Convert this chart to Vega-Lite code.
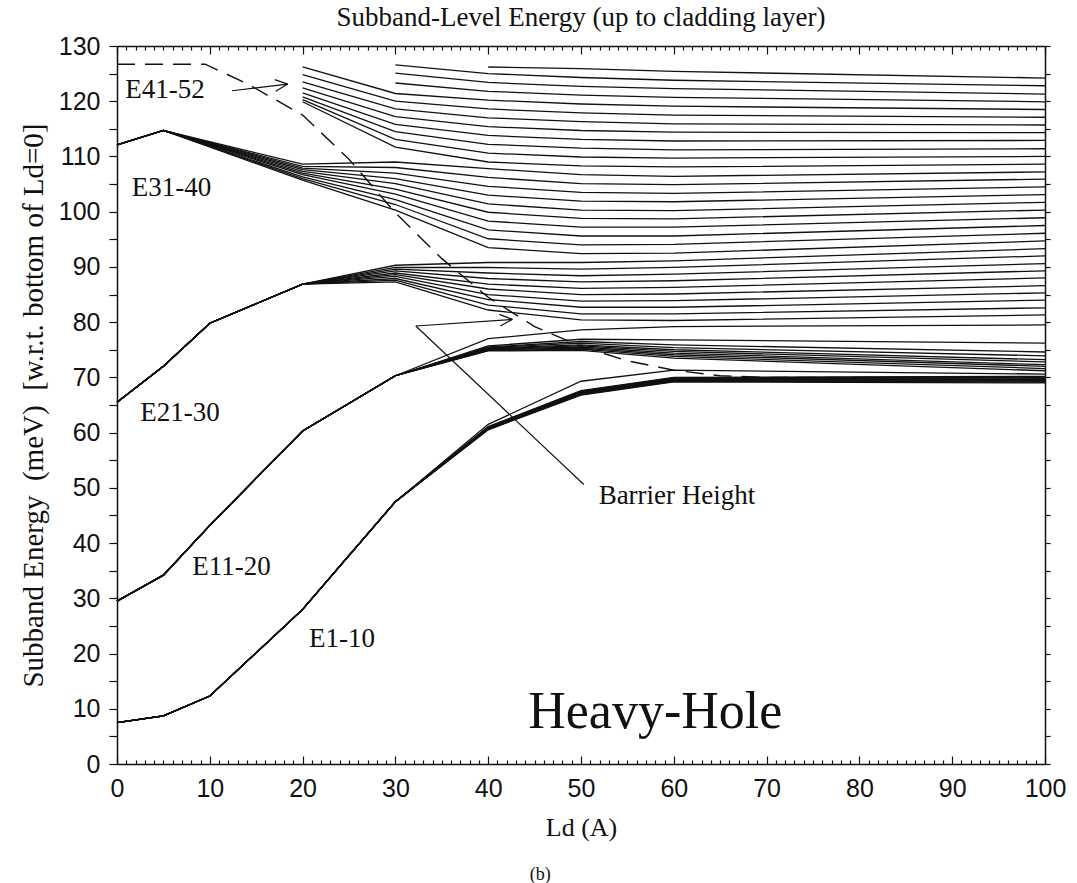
{
  "$schema": "https://vega.github.io/schema/vega-lite/v6.json",
  "width": 928,
  "height": 718,
  "autosize": {"type": "none"},
  "padding": {"left": 117, "top": 46, "right": 32, "bottom": 119},
  "background": "white",
  "config": {
    "view": {"stroke": null},
    "axis": {"domainColor": "#111", "tickColor": "#111", "domainWidth": 1.5, "tickWidth": 1.2, "grid": false, "labelFont": "Liberation Sans", "labelFontSize": 25, "labelColor": "#111", "titleFont": "Liberation Serif", "titleFontWeight": "normal", "titleColor": "#111", "labelOverlap": false, "labelFlush": false}
  },
  "title": {"text": "Subband-Level Energy (up to cladding layer)", "font": "Liberation Serif", "fontSize": 27, "fontWeight": "normal", "color": "#111", "anchor": "middle", "frame": "group", "offset": 2},
  "datasets": {
    "curves": [
      {"s":"a0","x":0,"y":7.5},{"s":"a0","x":5,"y":8.7},{"s":"a0","x":10,"y":12.3},{"s":"a0","x":20,"y":28},{"s":"a0","x":30,"y":47.5},{"s":"a0","x":40,"y":60.5},{"s":"a0","x":50,"y":66.8},{"s":"a0","x":60,"y":69.2},{"s":"a0","x":100,"y":69},
      {"s":"a1","x":0,"y":7.5},{"s":"a1","x":5,"y":8.7},{"s":"a1","x":10,"y":12.3},{"s":"a1","x":20,"y":28},{"s":"a1","x":30,"y":47.5},{"s":"a1","x":40,"y":60.6},{"s":"a1","x":50,"y":66.9},{"s":"a1","x":60,"y":69.3},{"s":"a1","x":100,"y":69.15},
      {"s":"a2","x":0,"y":7.5},{"s":"a2","x":5,"y":8.7},{"s":"a2","x":10,"y":12.3},{"s":"a2","x":20,"y":28},{"s":"a2","x":30,"y":47.5},{"s":"a2","x":40,"y":60.6},{"s":"a2","x":50,"y":67},{"s":"a2","x":60,"y":69.4},{"s":"a2","x":100,"y":69.3},
      {"s":"a3","x":0,"y":7.5},{"s":"a3","x":5,"y":8.7},{"s":"a3","x":10,"y":12.3},{"s":"a3","x":20,"y":28},{"s":"a3","x":30,"y":47.5},{"s":"a3","x":40,"y":60.7},{"s":"a3","x":50,"y":67.1},{"s":"a3","x":60,"y":69.5},{"s":"a3","x":100,"y":69.45},
      {"s":"a4","x":0,"y":7.5},{"s":"a4","x":5,"y":8.7},{"s":"a4","x":10,"y":12.3},{"s":"a4","x":20,"y":28},{"s":"a4","x":30,"y":47.5},{"s":"a4","x":40,"y":60.8},{"s":"a4","x":50,"y":67.2},{"s":"a4","x":60,"y":69.6},{"s":"a4","x":100,"y":69.6},
      {"s":"a5","x":0,"y":7.5},{"s":"a5","x":5,"y":8.7},{"s":"a5","x":10,"y":12.3},{"s":"a5","x":20,"y":28},{"s":"a5","x":30,"y":47.5},{"s":"a5","x":40,"y":60.8},{"s":"a5","x":50,"y":67.3},{"s":"a5","x":60,"y":69.7},{"s":"a5","x":100,"y":69.75},
      {"s":"a6","x":0,"y":7.5},{"s":"a6","x":5,"y":8.7},{"s":"a6","x":10,"y":12.3},{"s":"a6","x":20,"y":28},{"s":"a6","x":30,"y":47.5},{"s":"a6","x":40,"y":60.9},{"s":"a6","x":50,"y":67.4},{"s":"a6","x":60,"y":69.8},{"s":"a6","x":100,"y":69.9},
      {"s":"a7","x":0,"y":7.5},{"s":"a7","x":5,"y":8.7},{"s":"a7","x":10,"y":12.3},{"s":"a7","x":20,"y":28},{"s":"a7","x":30,"y":47.5},{"s":"a7","x":40,"y":61},{"s":"a7","x":50,"y":67.5},{"s":"a7","x":60,"y":69.9},{"s":"a7","x":100,"y":70.05},
      {"s":"a8","x":0,"y":7.5},{"s":"a8","x":5,"y":8.7},{"s":"a8","x":10,"y":12.3},{"s":"a8","x":20,"y":28},{"s":"a8","x":30,"y":47.5},{"s":"a8","x":40,"y":61.1},{"s":"a8","x":50,"y":67.6},{"s":"a8","x":60,"y":70},{"s":"a8","x":100,"y":70.2},
      {"s":"a9","x":0,"y":7.5},{"s":"a9","x":5,"y":8.7},{"s":"a9","x":10,"y":12.3},{"s":"a9","x":20,"y":28},{"s":"a9","x":30,"y":47.5},{"s":"a9","x":40,"y":61.5},{"s":"a9","x":50,"y":69.3},{"s":"a9","x":60,"y":71.3},{"s":"a9","x":100,"y":70.6},

      {"s":"b0","x":0,"y":29.5},{"s":"b0","x":5,"y":34.2},{"s":"b0","x":10,"y":43.2},{"s":"b0","x":20,"y":60.3},{"s":"b0","x":30,"y":70.3},{"s":"b0","x":40,"y":74.8},{"s":"b0","x":50,"y":74.9},{"s":"b0","x":60,"y":73.5},{"s":"b0","x":100,"y":71.2},
      {"s":"b1","x":0,"y":29.5},{"s":"b1","x":5,"y":34.2},{"s":"b1","x":10,"y":43.2},{"s":"b1","x":20,"y":60.3},{"s":"b1","x":30,"y":70.3},{"s":"b1","x":40,"y":74.9},{"s":"b1","x":50,"y":75.1},{"s":"b1","x":60,"y":73.8},{"s":"b1","x":100,"y":71.6},
      {"s":"b2","x":0,"y":29.5},{"s":"b2","x":5,"y":34.2},{"s":"b2","x":10,"y":43.2},{"s":"b2","x":20,"y":60.3},{"s":"b2","x":30,"y":70.3},{"s":"b2","x":40,"y":75},{"s":"b2","x":50,"y":75.3},{"s":"b2","x":60,"y":74.1},{"s":"b2","x":100,"y":72},
      {"s":"b3","x":0,"y":29.5},{"s":"b3","x":5,"y":34.2},{"s":"b3","x":10,"y":43.2},{"s":"b3","x":20,"y":60.3},{"s":"b3","x":30,"y":70.3},{"s":"b3","x":40,"y":75.1},{"s":"b3","x":50,"y":75.5},{"s":"b3","x":60,"y":74.4},{"s":"b3","x":100,"y":72.3},
      {"s":"b4","x":0,"y":29.5},{"s":"b4","x":5,"y":34.2},{"s":"b4","x":10,"y":43.2},{"s":"b4","x":20,"y":60.3},{"s":"b4","x":30,"y":70.3},{"s":"b4","x":40,"y":75.2},{"s":"b4","x":50,"y":75.7},{"s":"b4","x":60,"y":74.7},{"s":"b4","x":100,"y":72.8},
      {"s":"b5","x":0,"y":29.5},{"s":"b5","x":5,"y":34.2},{"s":"b5","x":10,"y":43.2},{"s":"b5","x":20,"y":60.3},{"s":"b5","x":30,"y":70.3},{"s":"b5","x":40,"y":75.3},{"s":"b5","x":50,"y":75.9},{"s":"b5","x":60,"y":75},{"s":"b5","x":100,"y":73.2},
      {"s":"b6","x":0,"y":29.5},{"s":"b6","x":5,"y":34.2},{"s":"b6","x":10,"y":43.2},{"s":"b6","x":20,"y":60.3},{"s":"b6","x":30,"y":70.3},{"s":"b6","x":40,"y":75.4},{"s":"b6","x":50,"y":76.2},{"s":"b6","x":60,"y":75.4},{"s":"b6","x":100,"y":73.9},
      {"s":"b7","x":0,"y":29.5},{"s":"b7","x":5,"y":34.2},{"s":"b7","x":10,"y":43.2},{"s":"b7","x":20,"y":60.3},{"s":"b7","x":30,"y":70.3},{"s":"b7","x":40,"y":75.5},{"s":"b7","x":50,"y":76.5},{"s":"b7","x":60,"y":75.9},{"s":"b7","x":100,"y":74.6},
      {"s":"b8","x":0,"y":29.5},{"s":"b8","x":5,"y":34.2},{"s":"b8","x":10,"y":43.2},{"s":"b8","x":20,"y":60.3},{"s":"b8","x":30,"y":70.3},{"s":"b8","x":40,"y":75.7},{"s":"b8","x":50,"y":76.9},{"s":"b8","x":60,"y":76.8},{"s":"b8","x":100,"y":76.2},
      {"s":"b9","x":0,"y":29.5},{"s":"b9","x":5,"y":34.2},{"s":"b9","x":10,"y":43.2},{"s":"b9","x":20,"y":60.3},{"s":"b9","x":30,"y":70.3},{"s":"b9","x":40,"y":77},{"s":"b9","x":50,"y":78.6},{"s":"b9","x":60,"y":79.2},{"s":"b9","x":100,"y":79.5},

      {"s":"c0","x":0,"y":65.5},{"s":"c0","x":5,"y":72},{"s":"c0","x":10,"y":79.8},{"s":"c0","x":20,"y":86.9},{"s":"c0","x":30,"y":87.3},{"s":"c0","x":40,"y":82.2},{"s":"c0","x":50,"y":80.4},{"s":"c0","x":60,"y":80.3},{"s":"c0","x":100,"y":81.3},
      {"s":"c1","x":0,"y":65.5},{"s":"c1","x":5,"y":72},{"s":"c1","x":10,"y":79.8},{"s":"c1","x":20,"y":86.9},{"s":"c1","x":30,"y":87.6},{"s":"c1","x":40,"y":83.1},{"s":"c1","x":50,"y":81.5},{"s":"c1","x":60,"y":81.5},{"s":"c1","x":100,"y":82.6},
      {"s":"c2","x":0,"y":65.5},{"s":"c2","x":5,"y":72},{"s":"c2","x":10,"y":79.8},{"s":"c2","x":20,"y":86.9},{"s":"c2","x":30,"y":87.9},{"s":"c2","x":40,"y":84.1},{"s":"c2","x":50,"y":82.7},{"s":"c2","x":60,"y":82.7},{"s":"c2","x":100,"y":84},
      {"s":"c3","x":0,"y":65.5},{"s":"c3","x":5,"y":72},{"s":"c3","x":10,"y":79.8},{"s":"c3","x":20,"y":86.9},{"s":"c3","x":30,"y":88.3},{"s":"c3","x":40,"y":85},{"s":"c3","x":50,"y":83.8},{"s":"c3","x":60,"y":83.9},{"s":"c3","x":100,"y":85.3},
      {"s":"c4","x":0,"y":65.5},{"s":"c4","x":5,"y":72},{"s":"c4","x":10,"y":79.8},{"s":"c4","x":20,"y":86.9},{"s":"c4","x":30,"y":88.6},{"s":"c4","x":40,"y":86},{"s":"c4","x":50,"y":85},{"s":"c4","x":60,"y":85.1},{"s":"c4","x":100,"y":86.6},
      {"s":"c5","x":0,"y":65.5},{"s":"c5","x":5,"y":72},{"s":"c5","x":10,"y":79.8},{"s":"c5","x":20,"y":86.9},{"s":"c5","x":30,"y":88.9},{"s":"c5","x":40,"y":86.9},{"s":"c5","x":50,"y":86.1},{"s":"c5","x":60,"y":86.3},{"s":"c5","x":100,"y":88},
      {"s":"c6","x":0,"y":65.5},{"s":"c6","x":5,"y":72},{"s":"c6","x":10,"y":79.8},{"s":"c6","x":20,"y":86.9},{"s":"c6","x":30,"y":89.3},{"s":"c6","x":40,"y":87.9},{"s":"c6","x":50,"y":87.3},{"s":"c6","x":60,"y":87.5},{"s":"c6","x":100,"y":89.3},
      {"s":"c7","x":0,"y":65.5},{"s":"c7","x":5,"y":72},{"s":"c7","x":10,"y":79.8},{"s":"c7","x":20,"y":86.9},{"s":"c7","x":30,"y":89.6},{"s":"c7","x":40,"y":88.9},{"s":"c7","x":50,"y":88.4},{"s":"c7","x":60,"y":88.7},{"s":"c7","x":100,"y":90.6},
      {"s":"c8","x":0,"y":65.5},{"s":"c8","x":5,"y":72},{"s":"c8","x":10,"y":79.8},{"s":"c8","x":20,"y":86.9},{"s":"c8","x":30,"y":89.9},{"s":"c8","x":40,"y":89.9},{"s":"c8","x":50,"y":89.6},{"s":"c8","x":60,"y":89.9},{"s":"c8","x":100,"y":92},
      {"s":"c9","x":0,"y":65.5},{"s":"c9","x":5,"y":72},{"s":"c9","x":10,"y":79.8},{"s":"c9","x":20,"y":86.9},{"s":"c9","x":30,"y":90.3},{"s":"c9","x":40,"y":90.8},{"s":"c9","x":50,"y":90.8},{"s":"c9","x":60,"y":91.1},{"s":"c9","x":100,"y":93.3},

      {"s":"d0","x":0,"y":112.1},{"s":"d0","x":5,"y":114.7},{"s":"d0","x":20,"y":105.7},{"s":"d0","x":30,"y":100.3},{"s":"d0","x":40,"y":93.5},{"s":"d0","x":50,"y":92.4},{"s":"d0","x":60,"y":92.5},{"s":"d0","x":100,"y":94.7},
      {"s":"d1","x":0,"y":112.1},{"s":"d1","x":5,"y":114.7},{"s":"d1","x":20,"y":106},{"s":"d1","x":30,"y":101.3},{"s":"d1","x":40,"y":95.1},{"s":"d1","x":50,"y":94},{"s":"d1","x":60,"y":94.1},{"s":"d1","x":100,"y":96.1},
      {"s":"d2","x":0,"y":112.1},{"s":"d2","x":5,"y":114.7},{"s":"d2","x":20,"y":106.3},{"s":"d2","x":30,"y":102.2},{"s":"d2","x":40,"y":96.7},{"s":"d2","x":50,"y":95.6},{"s":"d2","x":60,"y":95.6},{"s":"d2","x":100,"y":97.5},
      {"s":"d3","x":0,"y":112.1},{"s":"d3","x":5,"y":114.7},{"s":"d3","x":20,"y":106.7},{"s":"d3","x":30,"y":103.2},{"s":"d3","x":40,"y":98.3},{"s":"d3","x":50,"y":97.2},{"s":"d3","x":60,"y":97.2},{"s":"d3","x":100,"y":98.9},
      {"s":"d4","x":0,"y":112.1},{"s":"d4","x":5,"y":114.7},{"s":"d4","x":20,"y":107},{"s":"d4","x":30,"y":104.1},{"s":"d4","x":40,"y":99.9},{"s":"d4","x":50,"y":98.8},{"s":"d4","x":60,"y":98.7},{"s":"d4","x":100,"y":100.3},
      {"s":"d5","x":0,"y":112.1},{"s":"d5","x":5,"y":114.7},{"s":"d5","x":20,"y":107.3},{"s":"d5","x":30,"y":105.1},{"s":"d5","x":40,"y":101.4},{"s":"d5","x":50,"y":100.3},{"s":"d5","x":60,"y":100.2},{"s":"d5","x":100,"y":101.7},
      {"s":"d6","x":0,"y":112.1},{"s":"d6","x":5,"y":114.7},{"s":"d6","x":20,"y":107.6},{"s":"d6","x":30,"y":106},{"s":"d6","x":40,"y":103},{"s":"d6","x":50,"y":101.9},{"s":"d6","x":60,"y":101.8},{"s":"d6","x":100,"y":103.1},
      {"s":"d7","x":0,"y":112.1},{"s":"d7","x":5,"y":114.7},{"s":"d7","x":20,"y":107.9},{"s":"d7","x":30,"y":107},{"s":"d7","x":40,"y":104.6},{"s":"d7","x":50,"y":103.5},{"s":"d7","x":60,"y":103.3},{"s":"d7","x":100,"y":104.5},
      {"s":"d8","x":0,"y":112.1},{"s":"d8","x":5,"y":114.7},{"s":"d8","x":20,"y":108.2},{"s":"d8","x":30,"y":108},{"s":"d8","x":40,"y":106.2},{"s":"d8","x":50,"y":105.1},{"s":"d8","x":60,"y":104.9},{"s":"d8","x":100,"y":105.9},
      {"s":"d9","x":0,"y":112.1},{"s":"d9","x":5,"y":114.7},{"s":"d9","x":20,"y":108.6},{"s":"d9","x":30,"y":109},{"s":"d9","x":40,"y":107.8},{"s":"d9","x":50,"y":106.7},{"s":"d9","x":60,"y":106.4},{"s":"d9","x":100,"y":107.2},

      {"s":"e0","x":20,"y":119.9},{"s":"e0","x":30,"y":111.7},{"s":"e0","x":40,"y":109},{"s":"e0","x":50,"y":108.3},{"s":"e0","x":60,"y":108.1},{"s":"e0","x":100,"y":108.6},
      {"s":"e1","x":20,"y":120.3},{"s":"e1","x":30,"y":113.1},{"s":"e1","x":40,"y":110.6},{"s":"e1","x":50,"y":109.9},{"s":"e1","x":60,"y":109.7},{"s":"e1","x":100,"y":110},
      {"s":"e2","x":20,"y":120.8},{"s":"e2","x":30,"y":114.5},{"s":"e2","x":40,"y":112.2},{"s":"e2","x":50,"y":111.5},{"s":"e2","x":60,"y":111.2},{"s":"e2","x":100,"y":111.4},
      {"s":"e3","x":20,"y":121.5},{"s":"e3","x":30,"y":115.8},{"s":"e3","x":40,"y":113.8},{"s":"e3","x":50,"y":113.1},{"s":"e3","x":60,"y":112.8},{"s":"e3","x":100,"y":112.9},
      {"s":"e4","x":20,"y":122.4},{"s":"e4","x":30,"y":117.2},{"s":"e4","x":40,"y":115.4},{"s":"e4","x":50,"y":114.7},{"s":"e4","x":60,"y":114.4},{"s":"e4","x":100,"y":114.3},
      {"s":"e5","x":20,"y":123.5},{"s":"e5","x":30,"y":118.6},{"s":"e5","x":40,"y":117},{"s":"e5","x":50,"y":116.3},{"s":"e5","x":60,"y":115.9},{"s":"e5","x":100,"y":115.7},
      {"s":"e6","x":20,"y":124.8},{"s":"e6","x":30,"y":120},{"s":"e6","x":40,"y":118.6},{"s":"e6","x":50,"y":117.9},{"s":"e6","x":60,"y":117.5},{"s":"e6","x":100,"y":117.1},
      {"s":"e7","x":20,"y":126.2},{"s":"e7","x":30,"y":121.4},{"s":"e7","x":40,"y":120.2},{"s":"e7","x":50,"y":119.5},{"s":"e7","x":60,"y":119.1},{"s":"e7","x":100,"y":118.5},
      {"s":"f0","x":30,"y":123.3},{"s":"f0","x":40,"y":121.8},{"s":"f0","x":50,"y":121.1},{"s":"f0","x":60,"y":120.7},{"s":"f0","x":100,"y":119.9},
      {"s":"f1","x":30,"y":125.1},{"s":"f1","x":40,"y":123.4},{"s":"f1","x":50,"y":122.7},{"s":"f1","x":60,"y":122.3},{"s":"f1","x":100,"y":121.3},
      {"s":"f2","x":30,"y":126.6},{"s":"f2","x":40,"y":125},{"s":"f2","x":50,"y":124.3},{"s":"f2","x":60,"y":123.8},{"s":"f2","x":100,"y":122.8},
      {"s":"g0","x":40,"y":126.2},{"s":"g0","x":50,"y":125.9},{"s":"g0","x":60,"y":125.4},{"s":"g0","x":100,"y":124.2}
    ],
    "barrier": [
      {"x":0,"y":126.7},{"x":9.5,"y":126.7},{"x":14,"y":123.2},{"x":20,"y":117.5},{"x":25,"y":109.5},{"x":30,"y":99.8},{"x":35,"y":91.5},{"x":40,"y":84.5},{"x":45,"y":79.2},{"x":50,"y":75.6},{"x":55,"y":73},{"x":60,"y":71.3},{"x":65,"y":70.3},{"x":70,"y":70},{"x":100,"y":70}
    ],
    "arrows": [
      {"s":"r1","x":12.4,"y":121.9},{"s":"r1","x":18.4,"y":123.1},
      {"s":"r2","x":17.0,"y":123.9},{"s":"r2","x":18.4,"y":123.1},
      {"s":"r3","x":17.1,"y":121.8},{"s":"r3","x":18.4,"y":123.1},
      {"s":"r4","x":32.2,"y":79.3},{"s":"r4","x":42.6,"y":80.5},
      {"s":"r5","x":41.2,"y":81.4},{"s":"r5","x":42.6,"y":80.5},
      {"s":"r6","x":41.3,"y":79.3},{"s":"r6","x":42.6,"y":80.5},
      {"s":"r7","x":32.2,"y":79.3},{"s":"r7","x":50.3,"y":50.6}
    ],
    "notes": [
      {"x":0.9,"y":122.0,"t":"E41-52"},
      {"x":1.6,"y":104.3,"t":"E31-40"},
      {"x":2.5,"y":63.5,"t":"E21-30"},
      {"x":8.1,"y":35.7,"t":"E11-20"},
      {"x":20.7,"y":22.6,"t":"E1-10"},
      {"x":51.9,"y":48.5,"t":"Barrier Height"}
    ]
  },
  "layer": [
    {
      "data": {"name": "curves"},
      "mark": {"type": "line", "color": "#111", "strokeWidth": 1.3},
      "encoding": {
        "x": {"field": "x", "type": "quantitative", "scale": {"domain": [0, 100], "nice": false, "zero": false},
          "axis": {"orient": "bottom", "values": [0,1,2,3,4,5,6,7,8,9,10,11,12,13,14,15,16,17,18,19,20,21,22,23,24,25,26,27,28,29,30,31,32,33,34,35,36,37,38,39,40,41,42,43,44,45,46,47,48,49,50,51,52,53,54,55,56,57,58,59,60,61,62,63,64,65,66,67,68,69,70,71,72,73,74,75,76,77,78,79,80,81,82,83,84,85,86,87,88,89,90,91,92,93,94,95,96,97,98,99,100],
            "labelExpr": "datum.value % 10 === 0 ? datum.label : ''",
            "tickSize": {"condition": {"test": "datum.value % 10 === 0", "value": -8}, "value": -4},
            "labelPadding": 20, "title": "Ld (A)", "titleFontSize": 26, "titlePadding": 9}},
        "y": {"field": "y", "type": "quantitative", "scale": {"domain": [0, 130], "nice": false, "zero": false},
          "axis": {"orient": "left", "values": [0,5,10,15,20,25,30,35,40,45,50,55,60,65,70,75,80,85,90,95,100,105,110,115,120,125,130],
            "labelExpr": "datum.value % 10 === 0 ? datum.label : ''",
            "tickSize": 8, "labelPadding": 9,
            "title": "Subband Energy\u00a0\u00a0(meV)\u00a0\u00a0[w.r.t. bottom of Ld=0]", "titleFontSize": 29, "titlePadding": 10}},
        "detail": {"field": "s"}
      }
    },
    {
      "data": {"name": "barrier"},
      "mark": {"type": "line", "color": "#111", "strokeWidth": 1.4, "strokeDash": [18, 10]},
      "encoding": {
        "x": {"field": "x", "type": "quantitative", "axis": null},
        "y": {"field": "y", "type": "quantitative", "axis": null}
      }
    },
    {
      "data": {"name": "arrows"},
      "mark": {"type": "line", "color": "#111", "strokeWidth": 1.2},
      "encoding": {
        "x": {"field": "x", "type": "quantitative", "axis": null},
        "y": {"field": "y", "type": "quantitative", "axis": null},
        "detail": {"field": "s"}
      }
    },
    {
      "data": {"name": "notes"},
      "mark": {"type": "text", "font": "Liberation Serif", "fontSize": 27, "align": "left", "baseline": "middle", "color": "#111"},
      "encoding": {
        "x": {"field": "x", "type": "quantitative",
          "axis": {"orient": "top", "values": [0,1,2,3,4,5,6,7,8,9,10,11,12,13,14,15,16,17,18,19,20,21,22,23,24,25,26,27,28,29,30,31,32,33,34,35,36,37,38,39,40,41,42,43,44,45,46,47,48,49,50,51,52,53,54,55,56,57,58,59,60,61,62,63,64,65,66,67,68,69,70,71,72,73,74,75,76,77,78,79,80,81,82,83,84,85,86,87,88,89,90,91,92,93,94,95,96,97,98,99,100],
            "labels": false, "title": null,
            "tickSize": {"condition": {"test": "datum.value % 10 === 0", "value": -8}, "value": -4}}},
        "y": {"field": "y", "type": "quantitative",
          "axis": {"orient": "right", "values": [0,5,10,15,20,25,30,35,40,45,50,55,60,65,70,75,80,85,90,95,100,105,110,115,120,125,130],
            "labels": false, "title": null, "tickSize": 5}},
        "text": {"field": "t"}
      }
    },
    {
      "data": {"values": [{"x": 58, "y": 9.4, "t": "Heavy-Hole"}]},
      "mark": {"type": "text", "font": "Liberation Serif", "fontSize": 52, "align": "center", "baseline": "middle", "color": "#111"},
      "encoding": {
        "x": {"field": "x", "type": "quantitative", "axis": null},
        "y": {"field": "y", "type": "quantitative", "axis": null},
        "text": {"field": "t"}
      }
    },
    {
      "data": {"values": [{"x": 45.6, "y": -20.1, "t": "(b)"}]},
      "mark": {"type": "text", "font": "Liberation Serif", "fontSize": 18, "align": "center", "baseline": "middle", "color": "#111"},
      "encoding": {
        "x": {"field": "x", "type": "quantitative", "axis": null},
        "y": {"field": "y", "type": "quantitative", "axis": null},
        "text": {"field": "t"}
      }
    }
  ],
  "resolve": {"axis": {"x": "independent", "y": "independent"}}
}
